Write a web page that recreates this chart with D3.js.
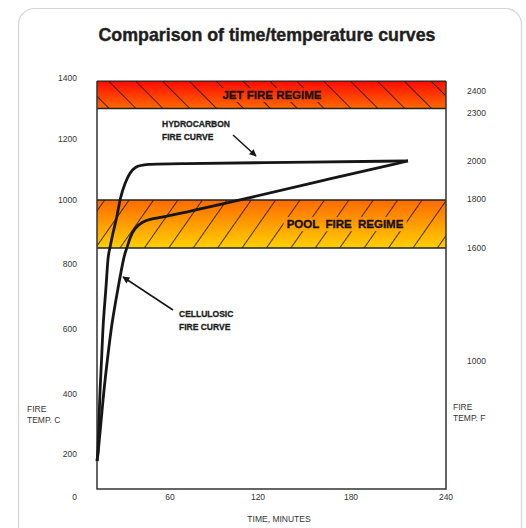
<!DOCTYPE html>
<html>
<head>
<meta charset="utf-8">
<script src="https://cdn.jsdelivr.net/npm/d3@7"></script>
<style>
  body { margin: 0; background: #fff; }
  text { font-family: "Liberation Sans", Arial, sans-serif; }
</style>
</head>
<body>
<script>
const width = 526, height = 528;

// data
const timeTicks = [0, 60, 120, 180, 240];
const tempCTicks = [0, 200, 400, 600, 800, 1000, 1200, 1400];
const tempFTicks = [1000, 1600, 1800, 2000, 2300, 2400];

const hydroTime = [0, 0.8, 1.6, 2.5, 4, 5, 7.5, 9, 10.7, 13, 16.5, 19, 23, 27, 31, 39, 67, 115, 216];
const hydroTemp = [160, 194, 307, 418, 520, 622, 726, 828, 850, 897, 947, 1007, 1056, 1089, 1108, 1118, 1119, 1122, 1128];

const celluTime = [0, 0.8, 3.3, 5.8, 9, 12.3, 17.3, 22.2, 24.7, 27.1, 31.2, 37, 43.6, 56, 108, 160, 216];
const celluTemp = [160, 194, 307, 418, 520, 622, 726, 828, 850, 884, 913, 931, 941, 947, 1000, 1062, 1128];

const jetBand = [1300, 1390];
const poolBand = [850, 1000];

const svg = d3.select('body').append('svg')
    .attr('width', width)
    .attr('height', height);

// the printed scales are not quite even, so map tick by tick
const x = d3.scaleLinear().domain(timeTicks).range([97, 170, 258, 351, 446]);
const y = d3.scaleLinear().domain(tempCTicks).range([489, 454, 394, 329, 264, 200, 139, 78]);
const yF = d3.scaleLinear().domain(tempFTicks).range([361, 248, 199, 161, 113, 91]);

const defs = svg.append('defs');

// card frame
svg.append('rect')
    .attr('x', 18.5).attr('y', 8.5)
    .attr('width', 503).attr('height', 540)
    .attr('rx', 16)
    .attr('fill', '#fff')
    .attr('stroke', '#d4d4d4')
    .attr('stroke-width', 1.2);

svg.append('text')
    .attr('x', 267).attr('y', 41)
    .attr('text-anchor', 'middle')
    .attr('font-size', 17.8)
    .attr('font-weight', 'bold')
    .attr('fill', '#1e1e1e')
    .attr('stroke', '#1e1e1e')
    .attr('stroke-width', 0.4)
    .text('Comparison of time/temperature curves');

// gradients and hatching
function gradient(id, top, bottom) {
    const g = defs.append('linearGradient').attr('id', id)
        .attr('x1', 0).attr('y1', 0).attr('x2', 0).attr('y2', 1);
    g.append('stop').attr('offset', '0%').attr('stop-color', top);
    g.append('stop').attr('offset', '100%').attr('stop-color', bottom);
}
gradient('jetGrad', '#ff0a00', '#ff6a00');
gradient('poolGrad', '#ff6a00', '#ffd000');

function hatch(id, size, angle) {
    defs.append('pattern').attr('id', id)
        .attr('patternUnits', 'userSpaceOnUse')
        .attr('width', size).attr('height', size)
        .attr('patternTransform', 'rotate(' + angle + ')')
      .append('line')
        .attr('x1', 0.5).attr('y1', 0).attr('x2', 0.5).attr('y2', size)
        .attr('stroke', '#111').attr('stroke-width', 0.8);
}
hatch('jetHatch', 19, -45);
hatch('poolHatch', 20, 35);

const x0 = x(0), x1 = x(240);

function band(range, grad, hatchId, label, labelX, maskId) {
    const top = y(range[1]), bot = y(range[0]);
    const g = svg.append('g');
    g.append('rect')
        .attr('x', x0).attr('y', top)
        .attr('width', x1 - x0).attr('height', bot - top)
        .attr('fill', 'url(#' + grad + ')');
    const hatchRect = g.append('rect')
        .attr('x', x0).attr('y', top)
        .attr('width', x1 - x0).attr('height', bot - top)
        .attr('fill', 'url(#' + hatchId + ')');
    const t = g.append('text')
        .attr('x', labelX).attr('y', (top + bot) / 2)
        .attr('dy', '0.36em')
        .attr('text-anchor', 'middle')
        .attr('font-size', 11.5)
        .attr('font-weight', 'bold')
        .attr('fill', '#1a1008')
        .attr('stroke', '#1a1008')
        .attr('stroke-width', 0.35)
        .attr('style', 'white-space: pre')
        .text(label);
    const bb = t.node().getBBox();
    const m = defs.append('mask').attr('id', maskId).attr('maskUnits', 'userSpaceOnUse');
    m.append('rect').attr('x', 0).attr('y', 0).attr('width', width).attr('height', height).attr('fill', '#fff');
    m.append('rect').attr('x', bb.x - 3).attr('y', bb.y - 1)
        .attr('width', bb.width + 6).attr('height', bb.height + 2).attr('fill', '#000');
    hatchRect.attr('mask', 'url(#' + maskId + ')');
    g.append('line').attr('x1', x0).attr('x2', x1).attr('y1', top).attr('y2', top)
        .attr('stroke', '#222').attr('stroke-width', 1.3);
    g.append('line').attr('x1', x0).attr('x2', x1).attr('y1', bot).attr('y2', bot)
        .attr('stroke', '#222').attr('stroke-width', 1.3);
}

band(jetBand, 'jetGrad', 'jetHatch', 'JET FIRE REGIME', 272, 'jetMask');
band(poolBand, 'poolGrad', 'poolHatch', 'POOL  FIRE  REGIME', 345, 'poolMask');

// plot frame (left, bottom, right)
svg.append('path')
    .attr('d', 'M' + x0 + ',' + y(jetBand[1]) + 'V' + 489 + 'H' + x1 + 'V' + y(jetBand[1]))
    .attr('fill', 'none')
    .attr('stroke', '#333')
    .attr('stroke-width', 1.5);

// tick labels
svg.append('g').selectAll('text')
    .data(tempCTicks).join('text')
    .attr('x', 77)
    .attr('y', d => y(d) + (d === 0 ? 8 : 0))
    .attr('dy', '0.35em')
    .attr('text-anchor', 'end')
    .attr('font-size', 8.5)
    .attr('fill', '#333')
    .text(d => d);

svg.append('g').selectAll('text')
    .data(tempFTicks).join('text')
    .attr('x', 467)
    .attr('y', d => yF(d))
    .attr('dy', '0.35em')
    .attr('font-size', 8.5)
    .attr('fill', '#333')
    .text(d => d);

svg.append('g').selectAll('text')
    .data(timeTicks.slice(1)).join('text')
    .attr('x', d => x(d))
    .attr('y', 497)
    .attr('dy', '0.35em')
    .attr('text-anchor', 'middle')
    .attr('font-size', 8.5)
    .attr('fill', '#333')
    .text(d => d);

// axis titles
function twoLines(lines, xPos, yPos, opts) {
    const t = svg.append('text')
        .attr('x', xPos).attr('y', yPos)
        .attr('font-size', opts.size)
        .attr('font-weight', opts.weight || 'normal')
        .attr('fill', opts.fill || '#333')
        .attr('text-anchor', opts.anchor || 'start');
    if (opts.heavy) t.attr('stroke', opts.fill).attr('stroke-width', 0.3);
    lines.forEach((s, i) => {
        t.append('tspan').attr('x', xPos).attr('dy', i ? opts.lh : 0).text(s);
    });
}
twoLines(['FIRE', 'TEMP. C'], 27, 412, { size: 8.5, lh: 11 });
twoLines(['FIRE', 'TEMP. F'], 453, 410, { size: 8.5, lh: 11 });
svg.append('text')
    .attr('x', 279).attr('y', 522)
    .attr('text-anchor', 'middle')
    .attr('font-size', 8.5)
    .attr('fill', '#333')
    .text('TIME, MINUTES');

// curves
const line = d3.line()
    .x(d => x(d[0]))
    .y(d => y(d[1]))
    .curve(d3.curveBasis);

const hydro = hydroTime.map((t, i) => [t, hydroTemp[i]]);
const cellu = celluTime.map((t, i) => [t, celluTemp[i]]);

[hydro, cellu].forEach(data => {
    svg.append('path')
        .datum(data)
        .attr('d', line)
        .attr('fill', 'none')
        .attr('stroke', '#161616')
        .attr('stroke-width', 2.8)
        .attr('stroke-linejoin', 'round');
});

// annotations
defs.append('marker').attr('id', 'arrow')
    .attr('viewBox', '0 0 10 10')
    .attr('refX', 9).attr('refY', 5)
    .attr('markerWidth', 9).attr('markerHeight', 7)
    .attr('markerUnits', 'userSpaceOnUse')
    .attr('orient', 'auto')
  .append('path')
    .attr('d', 'M0,0L10,5L0,10z')
    .attr('fill', '#161616');

twoLines(['HYDROCARBON', 'FIRE CURVE'], 162, 127, { size: 8.5, lh: 13, weight: 'bold', fill: '#1e1e1e', heavy: true });
twoLines(['CELLULOSIC', 'FIRE CURVE'], 179, 317, { size: 8.5, lh: 13, weight: 'bold', fill: '#1e1e1e', heavy: true });

svg.append('line')
    .attr('x1', 233).attr('y1', 135).attr('x2', 256).attr('y2', 156)
    .attr('stroke', '#161616').attr('stroke-width', 1.5)
    .attr('marker-end', 'url(#arrow)');
svg.append('line')
    .attr('x1', 173).attr('y1', 310).attr('x2', 123).attr('y2', 277)
    .attr('stroke', '#161616').attr('stroke-width', 1.5)
    .attr('marker-end', 'url(#arrow)');
</script>
</body>
</html>
